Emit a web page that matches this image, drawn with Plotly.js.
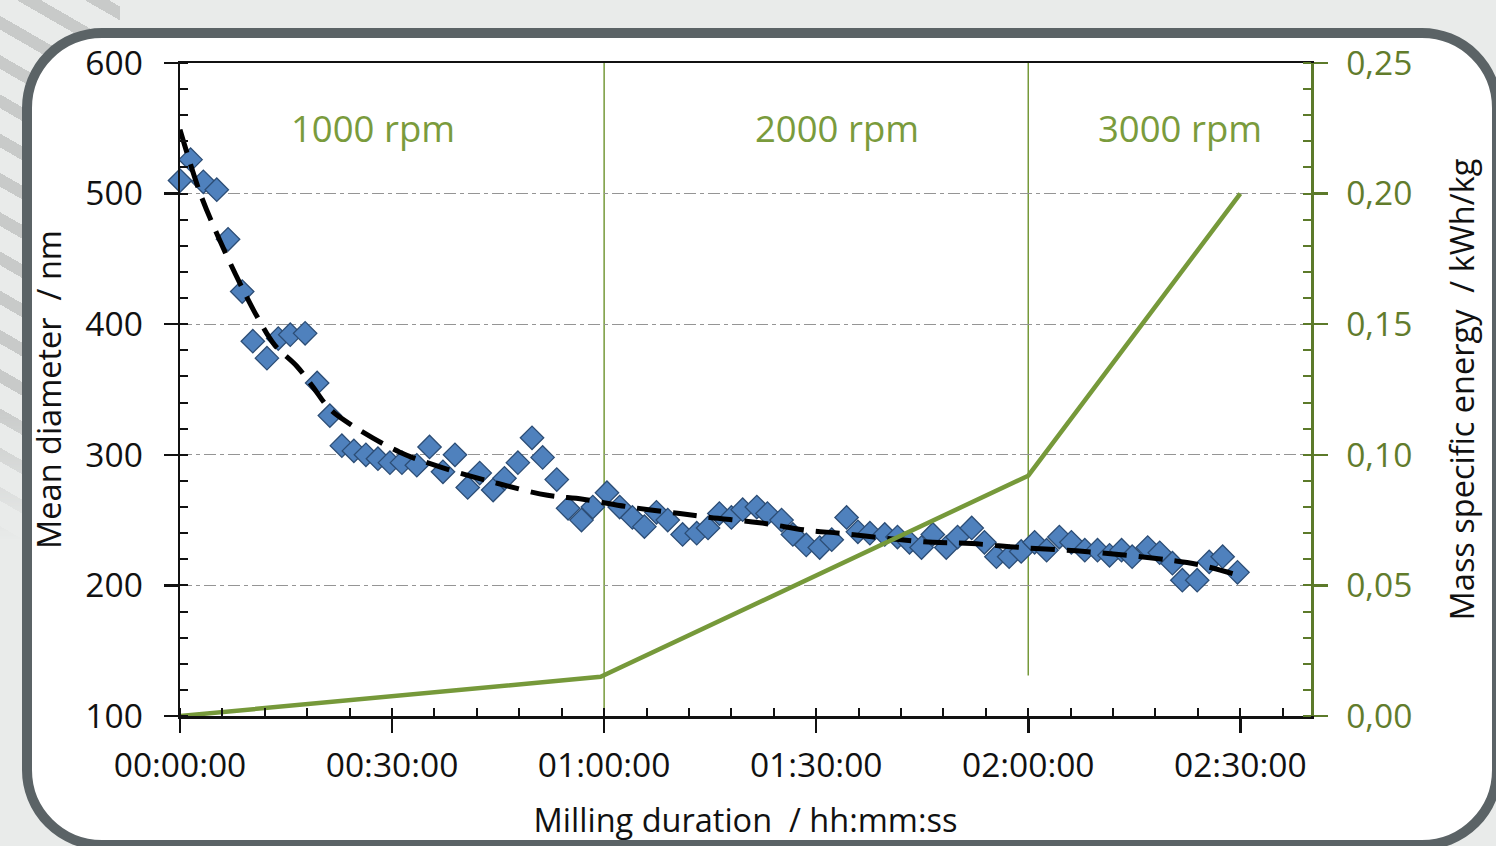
<!DOCTYPE html>
<html>
<head>
<meta charset="utf-8">
<script src="https://cdn.plot.ly/plotly-3.0.1.min.js"></script>
<style>
  html, body { margin:0; padding:0; }
  body { width:1496px; height:846px; overflow:hidden; background:#e9ebea; position:relative; }
  #stripes { position:absolute; left:0; top:0; width:120px; height:540px;
    background: repeating-linear-gradient(30deg, #c8cac9 0px, #c8cac9 12px, rgba(0,0,0,0) 12px, rgba(0,0,0,0) 34px);
    -webkit-mask-image: linear-gradient(to bottom, #000 75%, rgba(0,0,0,0));
    mask-image: linear-gradient(to bottom, #000 75%, rgba(0,0,0,0)); }
  #frame { position:absolute; left:22px; top:28px; width:1480px; height:822px; box-sizing:border-box;
    border:10px solid #5b6366; border-radius:80px; background:#ffffff; }
  #chart { position:absolute; left:0; top:0; width:1496px; height:846px; }
</style>
</head>
<body>
<div id="stripes"></div>
<div id="frame"></div>
<div id="chart"></div>
<script>
// ---- data (time in minutes) ----
const tickVals = [0, 30, 60, 90, 120, 150];
const tickText = ['00:00:00', '00:30:00', '01:00:00', '01:30:00', '02:00:00', '02:30:00'];

const diaT = [0, 1.5, 3.3, 5.2, 6.8, 8.8, 10.3, 12.3, 13.9, 15.6, 17.7, 19.4, 21.2, 22.9, 24.6, 26.3,
  28.0, 29.7, 31.4, 33.5, 35.3, 37.2, 38.9, 40.7, 42.4, 44.3, 45.9, 47.8, 49.8, 51.3, 53.3, 54.9,
  56.8, 58.4, 60.4, 62.2, 64.0, 65.7, 67.4, 69.0, 71.1, 73.1, 74.7, 76.3, 78.0, 79.6, 81.6, 83.1,
  85.1, 86.7, 88.6, 90.5, 92.2, 94.3, 95.9, 97.6, 99.7, 101.5, 103.2, 104.9, 106.5, 108.4, 110.0,
  112.0, 113.8, 115.5, 117.3, 119.0, 120.9, 122.6, 124.4, 126.1, 128.0, 129.8, 131.5, 133.2, 134.7,
  136.9, 138.6, 140.4, 141.8, 143.9, 145.6, 147.5, 149.6];
const diaD = [510, 526, 509, 503, 465, 425, 387, 374, 389, 392, 393, 355, 330, 307, 303, 300,
  297, 294, 294, 292, 306, 287, 300, 275, 286, 273, 282, 294, 313, 298, 281, 259,
  250, 260, 271, 260, 252, 245, 256, 250, 239, 240, 244, 255, 252, 258, 260, 255,
  250, 239, 231, 229, 235, 252, 241, 240, 239, 237, 233, 229, 239, 229, 237,
  244, 233, 222, 222, 226, 233, 227, 237, 233, 227, 227, 223, 227, 222,
  229, 225, 217, 204, 204, 218, 222, 210];

const trendT = [0, 2.8, 5.4, 8.5, 11.2, 13.4, 16.5, 18.8, 21.2, 24.5, 31.1, 37.2, 45, 52, 57, 63.6,
  70.7, 75, 82, 89, 93.3, 100, 106.5, 112, 119, 128, 137.5, 144, 149.5];
const trendD = [549, 501, 467, 431, 403, 384, 368, 352, 335, 322, 302, 290, 278, 269, 266, 260,
  255, 252, 248, 242, 240, 236, 233, 232, 229, 226, 221, 216, 208];

const energyT = [0, 59.5, 120, 150];
const energyE = [0, 0.015, 0.092, 0.20];

const stageLabels = ['1000 rpm', '2000 rpm', '3000 rpm'];
const stageLabelT = [27.3, 93.0, 141.5];
const stageBounds = [60, 120];

// ---- styles ----
const black = '#111111';
const olive = '#5c7a2a';
const green = '#76993a';
const fontFam = '"Open Sans", "DejaVu Sans", sans-serif';

const traces = [
  { type:'scatter', mode:'markers', x:diaT, y:diaD, xaxis:'x', yaxis:'y', cliponaxis:false,
    marker:{ symbol:'diamond', size:18, color:'#4f81bd', line:{ color:'#2c4d75', width:1.3 } },
    hoverinfo:'x+y' },
  { type:'scatter', mode:'lines', x:energyT, y:energyE, xaxis:'x', yaxis:'y2',
    line:{ color:green, width:4.5 } },
  { type:'scatter', mode:'lines', x:trendT, y:trendD, xaxis:'x', yaxis:'y',
    line:{ color:'#000000', width:5, dash:'24px,12px', shape:'spline' } }
];

const annotations = stageLabels.map((s, i) => ({
  text:s, x:stageLabelT[i], y:550, xref:'x', yref:'y', showarrow:false,
  font:{ family:fontFam, size:36.5, color:'#7a9b3c' }, xanchor:'center', yanchor:'middle'
}));

const shapes = [
  { type:'line', xref:'x', yref:'y', x0:stageBounds[0], x1:stageBounds[0], y0:100, y1:600,
    line:{ color:green, width:1.5 }, layer:'below' },
  { type:'line', xref:'x', yref:'y', x0:stageBounds[1], x1:stageBounds[1], y0:131, y1:600,
    line:{ color:green, width:1.5 }, layer:'below' }
];

const layout = {
  width:1496, height:846,
  paper_bgcolor:'rgba(0,0,0,0)', plot_bgcolor:'rgba(0,0,0,0)',
  margin:{ l:180, r:185, t:63, b:130 },
  separators:',.',
  showlegend:false,
  font:{ family:fontFam, color:black },
  xaxis:{
    range:[0, 160], tickmode:'array', tickvals:tickVals, ticktext:tickText,
    ticks:'outside', ticklen:14, tickwidth:2.5, tickcolor:black,
    showline:true, linecolor:black, linewidth:2.5, mirror:true,
    showgrid:false, zeroline:false,
    tickfont:{ size:33.5, color:black }, ticklabelstandoff:4,
    minor:{ tick0:0, dtick:6, ticks:'inside', ticklen:8, tickwidth:2, tickcolor:black, showgrid:false },
    title:{ text:'Milling duration  / hh:mm:ss', font:{ size:32.5, color:black }, standoff:24 }
  },
  xaxis2:{
    overlaying:'x', anchor:'y', side:'bottom', range:[0, 160],
    tickmode:'array', tickvals:tickVals, ticks:'inside', ticklen:14, tickwidth:2.5, tickcolor:black,
    showticklabels:false, showgrid:false, zeroline:false, showline:false
  },
  yaxis:{
    range:[100, 600], tick0:100, dtick:100,
    ticks:'outside', ticklen:14, tickwidth:2.5, tickcolor:black,
    showline:true, linecolor:black, linewidth:2.5,
    showgrid:true, gridcolor:'#959595', gridwidth:1.3, griddash:'12px,4px,4px,4px',
    zeroline:false,
    tickfont:{ size:33.5, color:black }, ticklabelstandoff:14,
    minor:{ tick0:100, dtick:20, ticks:'inside', ticklen:8, tickwidth:2, tickcolor:black, showgrid:false },
    title:{ text:'Mean diameter  / nm', font:{ size:32.5, color:black }, standoff:14 }
  },
  yaxis2:{
    overlaying:'y', side:'right', anchor:'x', range:[0, 0.25], tick0:0, dtick:0.05, tickformat:'.2f',
    ticks:'outside', ticklen:14, tickwidth:2.5, tickcolor:olive,
    showline:true, linecolor:olive, linewidth:2.5,
    showgrid:false, zeroline:false,
    tickfont:{ size:33.5, color:'#627c2c' }, ticklabelstandoff:12,
    minor:{ tick0:0, dtick:0.01, ticks:'inside', ticklen:8, tickwidth:2, tickcolor:olive, showgrid:false },
    title:{ text:'Mass specific energy  / kWh/kg', font:{ size:32.5, color:black }, standoff:40 }
  },
  yaxis3:{
    overlaying:'y', side:'left', anchor:'x', range:[100, 600], tick0:100, dtick:100,
    ticks:'inside', ticklen:12, tickwidth:2.5, tickcolor:black,
    showticklabels:false, showgrid:false, zeroline:false, showline:false
  },
  yaxis4:{
    overlaying:'y', side:'right', anchor:'x', range:[0, 0.25], tick0:0, dtick:0.05,
    ticks:'inside', ticklen:12, tickwidth:2.5, tickcolor:olive,
    showticklabels:false, showgrid:false, zeroline:false, showline:false
  },
  annotations:annotations,
  shapes:shapes
};

Plotly.newPlot('chart', traces, layout, { displayModeBar:false, staticPlot:true });
</script>
</body>
</html>
